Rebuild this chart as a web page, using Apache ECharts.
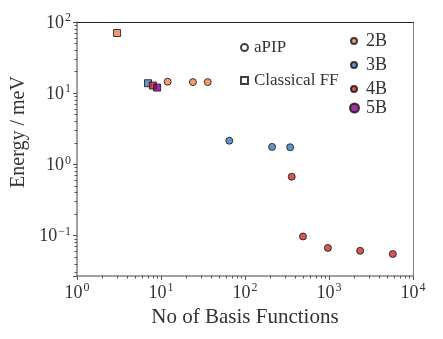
<!DOCTYPE html>
<html>
<head>
<meta charset="utf-8">
<script src="https://cdn.jsdelivr.net/npm/echarts@6/dist/echarts.min.js"></script>
<style>
  html, body { margin: 0; padding: 0; background: #fff; }
  #main { width: 443px; height: 339px; }
</style>
</head>
<body>
<div id="main"></div>
<script>
// data: [basis functions, energy]
var apip2B = [[12, 14.5], [24, 14.3], [36, 14.3]];
var apip3B = [[65, 2.15], [210, 1.76], [345, 1.74]];
var apip4B = [[360, 0.67], [490, 0.097], [970, 0.067], [2350, 0.061], [5750, 0.055]];
var ff2B = [[3, 70]];
var ff3B = [[7, 13.8]];
var ff4B = [[8, 12.8]];
var ff5B = [[9, 12.0]];

var colors = { '2B': '#ea8450', '3B': '#4276bb', '4B': '#d02c2c', '5B': '#800080' };
var font = 'Liberation Serif';

// tick labels: only powers of ten, as 10^n
function powLabel(v) {
  var e = Math.log10(v);
  if (Math.abs(e - Math.round(e)) > 1e-6) return '';
  e = Math.round(e);
  return '{b|10}{s|' + (e < 0 ? '\u2212' + (-e) : e) + '}';
}
var labelRich = {
  b: { fontFamily: font, fontSize: 18, color: '#333', lineHeight: 20, verticalAlign: 'bottom' },
  s: { fontFamily: font, fontSize: 12, color: '#333', lineHeight: 20, verticalAlign: 'top', padding: [0, 0, 0, 1] }
};

var myChart = echarts.init(document.getElementById('main'));

function scatter(name, data, symbol) {
  return {
    name: name, type: 'scatter', data: data, symbol: symbol, symbolSize: 7,
    itemStyle: { color: colors[name], borderColor: '#111', borderWidth: 1 },
    xAxisIndex: 0, yAxisIndex: 0, z: 5
  };
}

var option = {
  animation: false,
  grid: { left: 77, right: 30, top: 22, bottom: 63, containLabel: false },
  xAxis: [
    {
      type: 'log', min: 1, max: 10000, position: 'bottom',
      name: 'No of Basis Functions', nameLocation: 'middle', nameGap: 28,
      nameTextStyle: { fontFamily: font, fontSize: 21, color: '#333' },
      axisLine: { lineStyle: { color: '#808080', width: 1.5 } },
      axisTick: { length: 4, lineStyle: { color: '#555' } },
      minorTick: { show: true, splitNumber: 9, length: 2.5, lineStyle: { color: '#555' } },
      axisLabel: { formatter: powLabel, rich: labelRich, margin: 6 },
      splitLine: { show: false }
    },
    {
      type: 'log', min: 1, max: 10000, position: 'top',
      axisLine: { lineStyle: { color: '#222', width: 1 } },
      axisTick: { show: false }, axisLabel: { show: false }, splitLine: { show: false }
    }
  ],
  yAxis: [
    {
      type: 'log', min: 0.027, max: 100, position: 'left',
      name: 'Energy / meV', nameLocation: 'middle', nameGap: 35,
      nameTextStyle: { fontFamily: font, fontSize: 20, color: '#333', padding: [0, 0, 0, 34] },
      axisLine: { lineStyle: { color: '#808080', width: 1.5 } },
      axisTick: { length: 4, lineStyle: { color: '#555' } },
      minorTick: { show: true, splitNumber: 9, length: 2.5, lineStyle: { color: '#555' } },
      axisLabel: { formatter: powLabel, rich: labelRich, margin: 6, showMinLabel: false },
      splitLine: { show: false }
    },
    {
      type: 'log', min: 0.027, max: 100, position: 'right',
      axisLine: { lineStyle: { color: '#808080', width: 1 } },
      axisTick: { show: false }, axisLabel: { show: false }, splitLine: { show: false }
    }
  ],
  legend: [
    {
      data: [{ name: 'aPIP', icon: 'circle' }, { name: 'Classical FF', icon: 'rect' }],
      orient: 'vertical', left: 235, top: 34, padding: 5, itemWidth: 7, itemHeight: 7, itemGap: 16,
      textStyle: { fontFamily: font, fontSize: 17, color: '#333', lineHeight: 16, padding: [0, 0, 0, 1] },
      selectedMode: false
    },
    {
      data: [{ name: '2B', icon: 'circle' }, { name: '3B', icon: 'circle' }, { name: '4B', icon: 'circle' }],
      orient: 'vertical', left: 345, top: 27, padding: 5, itemWidth: 6, itemHeight: 6, itemGap: 6,
      textStyle: { fontFamily: font, fontSize: 18, color: '#333', lineHeight: 16, padding: [0, 0, 0, 4] },
      selectedMode: false
    },
    {
      data: [{ name: '5B', icon: 'circle' }],
      orient: 'vertical', left: 344, top: 94, padding: 5, itemWidth: 9, itemHeight: 9,
      textStyle: { fontFamily: font, fontSize: 18, color: '#333', lineHeight: 16, padding: [0, 0, 0, 2] },
      selectedMode: false
    }
  ],
  series: [
    scatter('2B', apip2B, 'circle'),
    scatter('3B', apip3B, 'circle'),
    scatter('4B', apip4B, 'circle'),
    scatter('2B', ff2B, 'rect'),
    scatter('3B', ff3B, 'rect'),
    scatter('4B', ff4B, 'rect'),
    scatter('5B', ff5B, 'rect'),
    // shape-only entries for the marker legend
    { name: 'aPIP', type: 'scatter', data: [], symbol: 'circle',
      itemStyle: { color: '#fff', borderColor: '#111', borderWidth: 1.5 } },
    { name: 'Classical FF', type: 'scatter', data: [], symbol: 'rect',
      itemStyle: { color: '#fff', borderColor: '#111', borderWidth: 1.5 } }
  ]
};

myChart.setOption(option);
</script>
</body>
</html>
